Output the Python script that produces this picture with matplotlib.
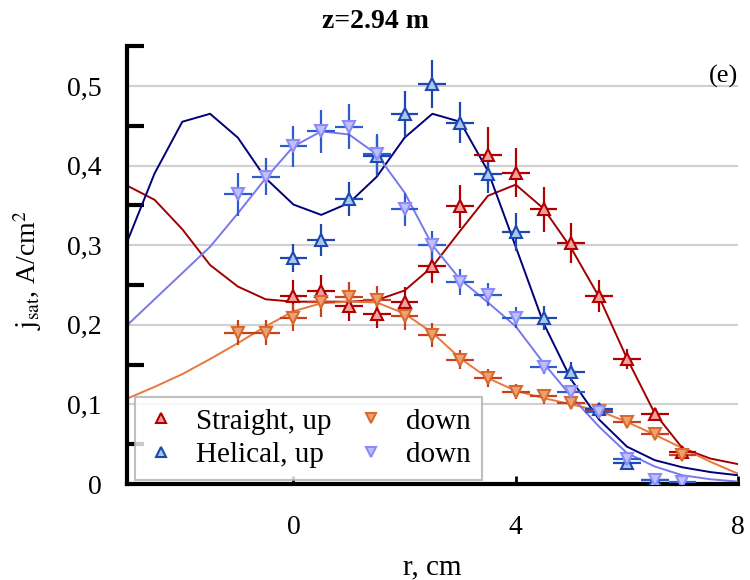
import matplotlib
matplotlib.use("Agg")
import matplotlib.pyplot as plt
from matplotlib.lines import Line2D
from matplotlib.ticker import FixedLocator, FuncFormatter

plt.rcParams["font.family"] = ["Liberation Serif", "DejaVu Serif"]
plt.rcParams["mathtext.fontset"] = "stix"

# measured points (r in cm, j_sat in A/cm^2)
r_su = [0, 0.5, 1.0, 1.5, 2.0, 2.5, 3.0, 3.5, 4.0, 4.5, 5.0, 5.5, 6.0, 6.5, 7.0]
j_su = [0.236, 0.243, 0.223, 0.214, 0.229, 0.274, 0.349, 0.413, 0.391, 0.345,
        0.303, 0.236, 0.157, 0.088, 0.040]
e_su = [0.020, 0.020, 0.018, 0.018, 0.019, 0.022, 0.027, 0.036, 0.031, 0.028,
        0.025, 0.020, 0.013, 0.008, 0.005]

r_sd = [-1.0, -0.5, 0, 0.5, 1.0, 1.5, 2.0, 2.5, 3.0, 3.5, 4.0, 4.5, 5.0, 5.5,
        6.0, 6.5, 7.0]
j_sd = [0.190, 0.190, 0.209, 0.228, 0.235, 0.231, 0.211, 0.187, 0.156, 0.133,
        0.116, 0.110, 0.102, 0.092, 0.078, 0.063, 0.036]
e_sd = [0.016, 0.016, 0.017, 0.018, 0.019, 0.018, 0.017, 0.015, 0.012, 0.011,
        0.009, 0.009, 0.008, 0.007, 0.006, 0.005, 0.003]

r_hu = [0, 0.5, 1.0, 1.5, 2.0, 2.5, 3.0, 3.5, 4.0, 4.5, 5.0, 5.5, 6.0, 6.5]
j_hu = [0.284, 0.307, 0.358, 0.412, 0.465, 0.502, 0.454, 0.389, 0.317, 0.209,
        0.141, 0.094, 0.026, 0.005]
e_hu = [0.018, 0.020, 0.021, 0.025, 0.029, 0.030, 0.026, 0.023, 0.024, 0.015,
        0.012, 0.008, 0.004, 0.002]

r_hd = [-1.0, -0.5, 0, 0.5, 1.0, 1.5, 2.0, 2.5, 3.0, 3.5, 4.0, 4.5, 5.0, 5.5,
        6.0, 6.5, 7.0]
j_hd = [0.364, 0.386, 0.424, 0.443, 0.449, 0.414, 0.345, 0.300, 0.254, 0.238,
        0.209, 0.147, 0.116, 0.091, 0.031, 0.005, 0.003]
e_hd = [0.027, 0.023, 0.026, 0.027, 0.028, 0.025, 0.021, 0.018, 0.016, 0.014,
        0.013, 0.009, 0.007, 0.006, 0.003, 0.002, 0.002]

# fitted curves
r_fit = [-3, -2.5, -2, -1.5, -1, -0.5, 0, 0.5, 1, 1.5, 2, 2.5, 3, 3.5, 4, 4.5,
         5, 5.5, 6, 6.5, 7, 7.5, 8]
fit_su = [0.375, 0.357, 0.320, 0.275, 0.248, 0.232, 0.229, 0.229, 0.229, 0.231,
          0.243, 0.273, 0.318, 0.362, 0.376, 0.346, 0.296, 0.235, 0.158, 0.089,
          0.045, 0.032, 0.025]
fit_sd = [0.107, 0.122, 0.138, 0.157, 0.177, 0.198, 0.217, 0.227, 0.229, 0.228,
          0.214, 0.190, 0.158, 0.133, 0.117, 0.108, 0.100, 0.092, 0.078, 0.062,
          0.045, 0.028, 0.013]
fit_hu = [0.303, 0.390, 0.455, 0.465, 0.435, 0.384, 0.351, 0.338, 0.353, 0.386,
          0.435, 0.465, 0.455, 0.393, 0.298, 0.202, 0.131, 0.081, 0.047, 0.030,
          0.021, 0.015, 0.011]
fit_hd = [0.199, 0.232, 0.265, 0.298, 0.340, 0.384, 0.424, 0.443, 0.439, 0.414,
          0.366, 0.300, 0.257, 0.228, 0.198, 0.152, 0.110, 0.072, 0.039, 0.022,
          0.011, 0.006, 0.003]

x_err = 0.25

fig = plt.figure(figsize=(7.5, 5.8), dpi=100)
ax = fig.add_axes([0.169, 0.1655, 0.815, 0.755])

for y in [0.1, 0.2, 0.3, 0.4, 0.5]:
    ax.axhline(y, color="#d0d0d0", linewidth=1.5, zorder=0)

ax.plot(r_fit, fit_su, color="#a00000", linewidth=1.4, zorder=2)
ax.plot(r_fit, fit_sd, color="#e8783c", linewidth=1.4, zorder=2)
ax.plot(r_fit, fit_hu, color="#000078", linewidth=1.4, zorder=2)
ax.plot(r_fit, fit_hd, color="#7878ee", linewidth=1.4, zorder=2)

series = [
    (r_su, j_su, e_su, "#b00000", "#b00000", "#f4a0a0", "^"),
    (r_sd, j_sd, e_sd, "#c8401c", "#d86a30", "#f0a070", "v"),
    (r_hu, j_hu, e_hu, "#1c48b0", "#1c48b0", "#a8c8f0", "^"),
    (r_hd, j_hd, e_hd, "#2c5cd0", "#8c8cf8", "#c0c0ff", "v"),
]

for r, j, e, ecol, mcol, fcol, mk in series:

    ax.errorbar(
        r, j, xerr=x_err, yerr=e,
        fmt="none", ecolor=ecol, elinewidth=1.6, capsize=0, zorder=3
    )

    ax.plot(
        r, j, linestyle="none", marker=mk, markersize=8,
        markeredgecolor=mcol, markerfacecolor=fcol,
        markeredgewidth=1.5, zorder=4
    )

ax.set_xlim(-3, 8)
ax.set_ylim(0, 0.55)

ax.set_xticks([0, 4, 8])
ax.set_yticks([0, 0.1, 0.2, 0.3, 0.4, 0.5])
ax.yaxis.set_minor_locator(FixedLocator([0.05, 0.15, 0.25, 0.35, 0.45, 0.55]))
ax.yaxis.set_major_formatter(
    FuncFormatter(lambda v, p: "0" if v == 0 else ("%.1f" % v).replace(".", ","))
)

ax.tick_params(axis="x", direction="in", length=6, width=2, pad=22,
               labelsize=20)
ax.tick_params(axis="y", which="major", length=0, pad=18, labelsize=20)
ax.tick_params(axis="y", which="minor", direction="in", length=12, width=3)

for side in ["top", "right"]:
    ax.spines[side].set_visible(False)

ax.spines["left"].set_linewidth(3)
ax.spines["bottom"].set_linewidth(3)

# axis titles
ax.text(0.5, -0.19, "r, cm", transform=ax.transAxes, ha="center",
        va="center", fontsize=21)
ax.text(-0.162, 0.49, r"$\mathrm{j_{sat}}$, A/cm$^2$", transform=ax.transAxes,
        ha="center", va="center", rotation=90, fontsize=20)

ax.text(1.0, 0.93, "(e)", transform=ax.transAxes, ha="right", va="center",
        fontsize=19)

fig.text(0.5, 1 - 22 / 580, "z=2.94 m", ha="center", va="center",
         fontsize=20, fontweight="bold")

handles = [
    Line2D([], [], linestyle="none", marker="^", markersize=7,
           markeredgecolor="#b00000", markerfacecolor="#f4a0a0",
           markeredgewidth=1.5),
    Line2D([], [], linestyle="none", marker="^", markersize=7,
           markeredgecolor="#1c48b0", markerfacecolor="#a8c8f0",
           markeredgewidth=1.5),
    Line2D([], [], linestyle="none", marker="v", markersize=7,
           markeredgecolor="#d86a30", markerfacecolor="#f0a070",
           markeredgewidth=1.5),
    Line2D([], [], linestyle="none", marker="v", markersize=7,
           markeredgecolor="#8c8cf8", markerfacecolor="#c0c0ff",
           markeredgewidth=1.5),
]
labels = ["Straight, up", "Helical, up", "down", "down"]

leg = ax.legend(
    handles, labels, ncol=2, loc="lower left",
    bbox_to_anchor=(0.013, 0.009), borderaxespad=0,
    fontsize=21, frameon=True, fancybox=False,
    handlelength=1.0, handletextpad=0.7, columnspacing=0.85,
    labelspacing=0.25, borderpad=0.4
)
leg.get_frame().set_edgecolor("#b0b0b0")
leg.get_frame().set_linewidth(1.5)
leg.set_zorder(5)

fig.savefig("out.png", dpi=100)
